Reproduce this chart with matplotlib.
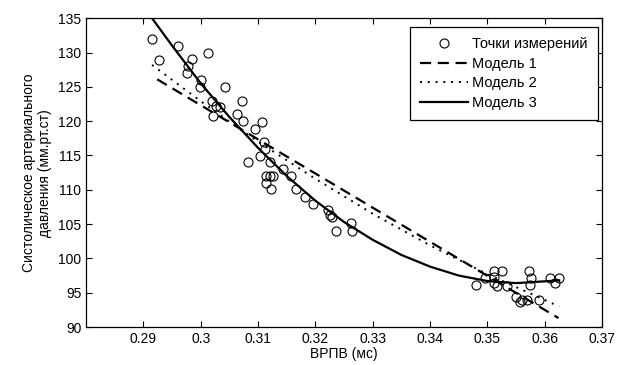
import numpy as np
import matplotlib
matplotlib.use("Agg")
import matplotlib.pyplot as plt

plt.rcParams['font.family'] = ['Liberation Sans', 'DejaVu Sans']
plt.rcParams['font.size'] = 10

# measured points (VRPV, s ; systolic pressure, mm Hg)
meas_x = [0.2915, 0.2927, 0.2961, 0.2984, 0.3013, 0.2978, 0.2976, 0.3001, 0.2999, 0.3043,
          0.3020, 0.3026, 0.3033, 0.3022, 0.3072, 0.3064, 0.3074, 0.3106, 0.3094, 0.3110,
          0.3112, 0.3082, 0.3103, 0.3121, 0.3144, 0.3113, 0.3121, 0.3126, 0.3114, 0.3123,
          0.3158, 0.3166, 0.3181, 0.3196, 0.3222, 0.3225, 0.3229, 0.3236, 0.3262, 0.3264,
          0.3511, 0.3525, 0.3496, 0.3511, 0.3480, 0.3511, 0.3516, 0.3534, 0.3573, 0.3576,
          0.3575, 0.3609, 0.3624, 0.3618, 0.3550, 0.3560, 0.3569, 0.3589, 0.3557]
meas_y = [132.0, 128.9, 131.0, 129.0, 130.0, 128.1, 127.0, 126.0, 125.0, 125.0,
          123.0, 122.2, 122.0, 120.8, 123.0, 121.0, 120.0, 119.9, 118.8, 117.0,
          115.9, 114.1, 114.9, 114.1, 113.1, 112.0, 112.0, 112.0, 111.0, 110.1,
          112.0, 110.1, 109.0, 107.9, 107.1, 106.3, 106.0, 104.0, 105.2, 104.0,
          98.2, 98.2, 97.2, 97.3, 96.1, 96.4, 96.0, 96.0, 98.2, 97.1,
          96.1, 97.2, 97.2, 96.4, 94.4, 94.0, 94.0, 94.0, 93.7]

# model curves
m1_x = [0.2924, 0.3348, 0.3624]
m1_y = [126.1, 105.0, 91.3]

m2_x = [0.2915, 0.300, 0.310, 0.320, 0.330, 0.340, 0.350, 0.3625]
m2_y = [128.2, 122.9, 117.0, 111.6, 106.5, 101.9, 97.7, 93.0]

m3_x = [0.2915, 0.295, 0.300, 0.305, 0.310, 0.315, 0.320, 0.325, 0.330,
        0.335, 0.340, 0.345, 0.350, 0.355, 0.3625]
m3_y = [135.0, 131.0, 125.5, 120.6, 116.1, 112.0, 108.4, 105.3, 102.7,
        100.5, 98.8, 97.5, 96.7, 96.4, 96.8]

fig = plt.figure(figsize=(6.24, 3.65), dpi=100)
ax = fig.add_axes([0.138, 0.104, 0.827, 0.846])

pts, = ax.plot(meas_x, meas_y, linestyle='none', marker='o', markersize=6.5,
               markerfacecolor='none', markeredgecolor='black', markeredgewidth=0.8)
l1, = ax.plot(m1_x, m1_y, color='black', linestyle=(0, (5, 3)), linewidth=1.6)
l2, = ax.plot(m2_x, m2_y, color='black', linestyle=(0, (1, 3)), linewidth=1.4)
l3, = ax.plot(m3_x, m3_y, color='black', linestyle='-', linewidth=1.6)

ax.set_xlim(0.28, 0.37)
ax.set_ylim(90, 135)
ax.set_xticks(np.arange(0.29, 0.3701, 0.01))
ax.set_xticklabels(['0.29', '0.3', '0.31', '0.32', '0.33', '0.34', '0.35', '0.36', '0.37'])
ax.set_yticks(np.arange(90, 136, 5))
ax.tick_params(direction='in', top=True, right=True, length=4, width=0.8)
for s in ax.spines.values():
    s.set_linewidth(0.9)

ax.set_xlabel('ВРПВ (мс)', labelpad=1)
ax.set_ylabel('Систолическое артериального\nдавления (мм.рт.ст)', labelpad=4)

leg = ax.legend((pts, l1, l2, l3), ('Точки измерений', 'Модель 1', 'Модель 2', 'Модель 3'),
                loc='upper right', bbox_to_anchor=(0.992, 0.971), borderaxespad=0,
                fancybox=False, edgecolor='black', framealpha=1, handlelength=3.3,
                handletextpad=0.3, labelspacing=0.38, borderpad=0.7, fontsize=10.5)
leg.get_frame().set_linewidth(0.9)

fig.savefig('out.png', dpi=100)
